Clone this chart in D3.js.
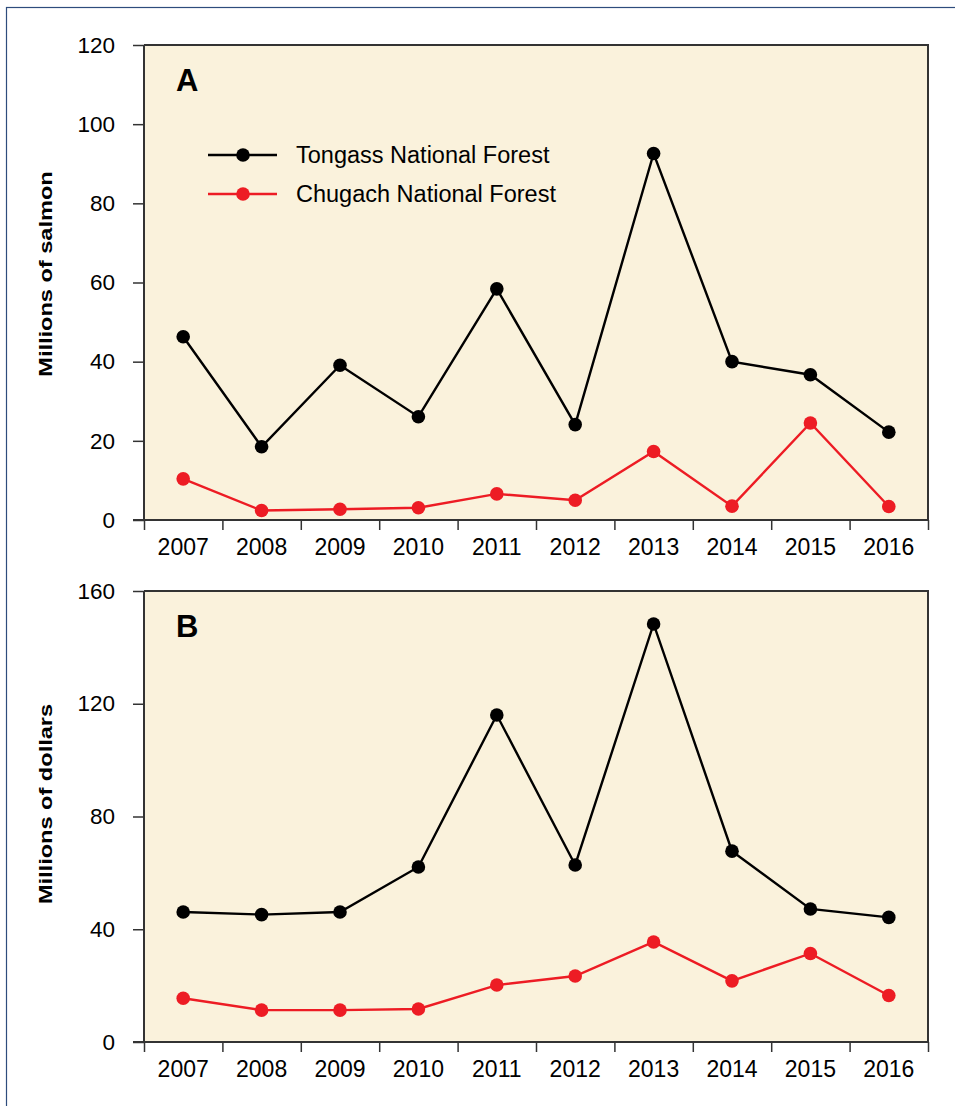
<!DOCTYPE html>
<html>
<head>
<meta charset="utf-8">
<script src="https://cdn.jsdelivr.net/npm/d3@7"></script>
<style>
html, body { margin: 0; padding: 0; background: #ffffff; }
svg { display: block; font-family: "Liberation Sans", Arial, sans-serif; }
</style>
</head>
<body>
<script>
// ---- data ----
const years = [2007, 2008, 2009, 2010, 2011, 2012, 2013, 2014, 2015, 2016];
const salmonTongass = [46.3, 18.5, 39.1, 26.1, 58.4, 24.1, 92.6, 40.0, 36.7, 22.2];
const salmonChugach = [10.4, 2.4, 2.7, 3.1, 6.6, 5.0, 17.3, 3.5, 24.5, 3.4];
const dollarsTongass = [46.1, 45.2, 46.1, 62.1, 116.0, 62.8, 148.3, 67.7, 47.2, 44.2];
const dollarsChugach = [15.5, 11.3, 11.3, 11.7, 20.2, 23.4, 35.5, 21.7, 31.4, 16.5];
const salmonTicks = [0, 20, 40, 60, 80, 100, 120];
const dollarTicks = [0, 40, 80, 120, 160];
const seriesNames = ["Tongass National Forest", "Chugach National Forest"];
const panelLetters = ["A", "B"];
const yTitles = ["Millions of salmon", "Millions of dollars"];

// ---- styling ----
const W = 955, H = 1106;
const colors = ["#000000", "#ED1C24"];
const bg = "#FAF2DC";
const axisColor = "#333333";

const svg = d3.select("body").append("svg").attr("width", W).attr("height", H);

// outer frame
svg.append("rect").attr("x", 6.5).attr("y", 7.5).attr("width", 1000).attr("height", 1200)
  .attr("fill", "#fff").attr("stroke", "#2E4C7C").attr("stroke-width", 1.2);

const left = 144, right = 928;
const panels = [
  { top: 45, bottom: 520, max: 120, ticks: salmonTicks, series: [salmonTongass, salmonChugach], letter: panelLetters[0], title: yTitles[0], titleY: 274, legend: true },
  { top: 591, bottom: 1042, max: 160, ticks: dollarTicks, series: [dollarsTongass, dollarsChugach], letter: panelLetters[1], title: yTitles[1], titleY: 804, legend: false }
];

const x = d3.scaleBand().domain(years).range([left, right]).padding(0);
const xb = d3.scaleLinear().domain([0, years.length]).range([left, right]);

panels.forEach(p => {
  const y = d3.scaleLinear().domain([0, p.max]).range([p.bottom, p.top]);
  const g = svg.append("g");

  // background
  g.append("rect").attr("x", left).attr("y", p.top).attr("width", right - left).attr("height", p.bottom - p.top)
    .attr("fill", bg);
  // top and right border
  g.append("path").attr("d", `M${left},${p.top}H${right}V${p.bottom}`)
    .attr("fill", "none").attr("stroke", axisColor).attr("stroke-width", 2);

  // y axis
  const ya = g.append("g").attr("transform", `translate(${left},0)`)
    .call(d3.axisLeft(y).tickValues(p.ticks).tickSize(11).tickPadding(18).tickFormat(d3.format("d")));
  ya.select(".domain").attr("stroke", axisColor).attr("stroke-width", 2).attr("d", `M0,${p.top}V${p.bottom}`);
  ya.selectAll(".tick line").attr("stroke", axisColor).attr("stroke-width", 1.5);
  ya.selectAll(".tick text").attr("font-size", 22.5).attr("fill", "#000")
    .attr("font-family", "'Liberation Sans', Arial, sans-serif");

  // x axis ticks at band boundaries
  const xt = g.append("g").attr("transform", `translate(0,${p.bottom})`)
    .call(d3.axisBottom(xb).tickValues(d3.range(years.length + 1)).tickSize(10).tickFormat(""));
  xt.select(".domain").attr("stroke", axisColor).attr("stroke-width", 2).attr("d", `M${left - 11},0H${right}`);
  xt.selectAll(".tick line").attr("stroke", axisColor).attr("stroke-width", 1.5);

  // x labels at band centers
  const xl = g.append("g").attr("transform", `translate(0,${p.bottom})`)
    .call(d3.axisBottom(x).tickSize(0).tickPadding(19));
  xl.select(".domain").remove();
  xl.selectAll(".tick text").attr("font-size", 23).attr("fill", "#000")
    .attr("font-family", "'Liberation Sans', Arial, sans-serif");

  // panel letter
  g.append("text").attr("x", 176).attr("y", p.top + 46).attr("font-size", 31).attr("font-weight", "bold")
    .text(p.letter);

  // y title (stretched along its length as in the reference)
  g.append("text").attr("transform", `translate(52,${p.titleY}) rotate(-90) scale(1.24,1)`)
    .attr("text-anchor", "middle").attr("font-size", 19).attr("font-weight", "bold").text(p.title);

  p.series.forEach((vals, i) => {
    const line = d3.line().x((d, j) => x(years[j]) + x.bandwidth() / 2).y(d => y(d));
    g.append("path").datum(vals).attr("d", line).attr("fill", "none")
      .attr("stroke", colors[i]).attr("stroke-width", 2.4).attr("stroke-linejoin", "miter");
    g.selectAll(null).data(vals).enter().append("circle")
      .attr("cx", (d, j) => x(years[j]) + x.bandwidth() / 2).attr("cy", d => y(d)).attr("r", 6.8)
      .attr("fill", colors[i]);
  });

  if (p.legend) {
    const ly = [155, 194];
    seriesNames.forEach((name, i) => {
      const lg = g.append("g");
      lg.append("line").attr("x1", 208).attr("x2", 277).attr("y1", ly[i]).attr("y2", ly[i])
        .attr("stroke", colors[i]).attr("stroke-width", 2.4);
      lg.append("circle").attr("cx", 243).attr("cy", ly[i]).attr("r", 6.8).attr("fill", colors[i]);
      lg.append("text").attr("x", 296).attr("y", ly[i] + 7.5).attr("font-size", 23.5).attr("fill", "#000").text(name);
    });
  }
});
</script>
</body>
</html>
